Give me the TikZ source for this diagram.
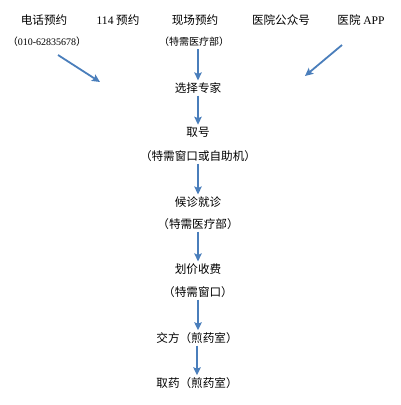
\documentclass[tikz,border=0pt]{standalone}
\usepackage{fontspec}
\setmainfont{Liberation Serif}
\newfontfamily\cjk{Noto Sans CJK SC}
\usepackage{tikz}
\usetikzlibrary{arrows.meta}
\definecolor{flow}{HTML}{4A7EBB}

\begin{document}
\begin{tikzpicture}[x=1pt,y=-1pt,
  stage/.style={inner sep=2pt,font=\cjk\fontsize{11.6}{13}\selectfont},
  note/.style={inner sep=2pt,font=\cjk\fontsize{11.6}{13}\selectfont},
  small/.style={inner sep=2pt,font=\cjk\fontsize{10}{12}\selectfont},
  arrow/.style={draw=flow,line width=1.8pt,-{Stealth[length=8pt,width=7.5pt,inset=1.5pt]}}
]
\useasboundingbox (0,0) rectangle (400,405);

% booking channels
\node[stage] (tel) at (44,20) {电话预约};
\node[stage] (num) at (118,20) {{\rmfamily 114} 预约};
\node[stage] (site) at (195,20) {现场预约};
\node[stage] (wx) at (281,20) {医院公众号};
\node[stage] (app) at (361,20) {医院 {\rmfamily APP}};
\node[small] (telno) at (47,42) {（{\rmfamily 010-62835678}）};
\node[small] (sitedep) at (194,42) {（特需医疗部）};

% main flow
\node[stage] (pick) at (198,88) {选择专家};
\node[stage] (ticket) at (198,132) {取号};
\node[note] (ticketw) at (198,156) {（特需窗口或自助机）};
\node[stage] (visit) at (198,202) {候诊就诊};
\node[note] (visitd) at (198,224) {（特需医疗部）};
\node[stage] (pay) at (198,269) {划价收费};
\node[note] (payw) at (198,292) {（特需窗口）};
\node[stage] (give) at (197,338) {交方（煎药室）};
\node[stage] (take) at (197,383) {取药（煎药室）};

\coordinate (lfrom) at (58,55);
\coordinate (lto) at (100,82);
\coordinate (rfrom) at (342,45);
\coordinate (rto) at (305,76);

\draw[arrow] (lfrom) -- (lto);
\draw[arrow] (rfrom) -- (rto);
\draw[arrow] (sitedep.south -| pick.north) -- (pick.north);
\draw[arrow] (pick) -- (ticket);
\draw[arrow] (ticketw) -- (visit);
\draw[arrow] (visitd) -- (pay);
\draw[arrow] (payw) -- (give.north -| payw.south);
\draw[arrow] (give.south -| take.north) -- (take);
\end{tikzpicture}
\end{document}
